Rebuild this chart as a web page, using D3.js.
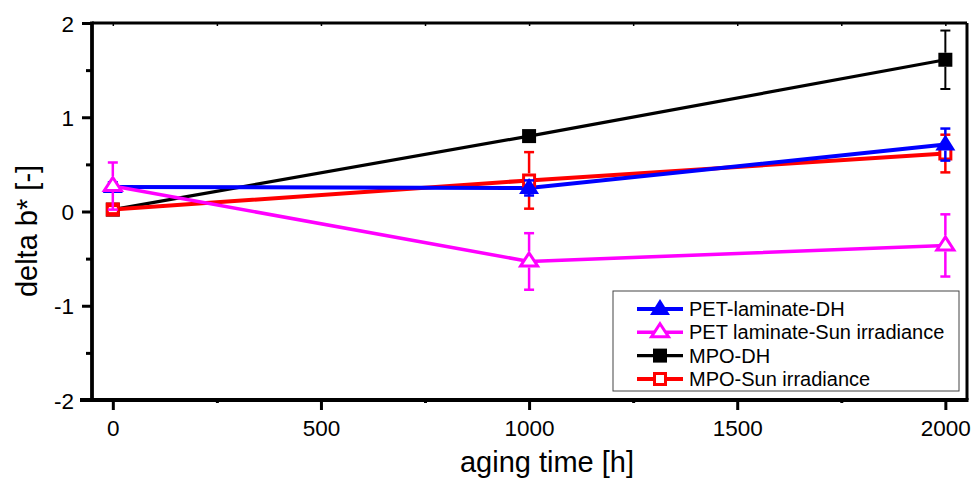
<!DOCTYPE html>
<html>
<head>
<meta charset="utf-8">
<script src="https://cdn.jsdelivr.net/npm/d3@7"></script>
<style>
  body { margin: 0; background: #fff; }
  text { font-family: "Liberation Sans", Arial, sans-serif; fill: #000; }
</style>
</head>
<body>
<div id="chart"></div>
<script>
// aging time [h]
const hours = [0, 1000, 2000];

const petDH = [0.26, 0.25, 0.71];
const petDHErr = [0.05, 0.08, 0.17];

const petSun = [0.27, -0.53, -0.36];
const petSunErr = [0.25, 0.30, 0.33];

const mpoDH = [0.02, 0.80, 1.61];
const mpoDHErr = [0.03, 0.05, 0.31];

const mpoSun = [0.02, 0.33, 0.615];
const mpoSunErr = [0.04, 0.30, 0.20];

const xTicks = [0, 500, 1000, 1500, 2000];
const yTicks = [-2, -1, 0, 1, 2];

const width = 980, height = 480;
const margin = { top: 23, right: 13, bottom: 80, left: 92 };

// marker shapes, top/bottom extents used to start error bars at marker edge
const shapes = {
    triUp: { path: "M0,-10L10,6L-10,6Z", top: 10, bottom: 6 },
    triOpen: { path: "M0,-8.5L8.5,4.5L-8.5,4.5Z", top: 10, bottom: 6 },
    square: { path: "M-7,-7H7V7H-7Z", top: 7, bottom: 7 },
    squareOpen: { path: "M-5.5,-5.5H5.5V5.5H-5.5Z", top: 7, bottom: 7 }
};

const series = [
    { name: "MPO-DH", values: mpoDH, err: mpoDHErr, color: "#000000", lw: 3.2, shape: "square", filled: true },
    { name: "MPO-Sun irradiance", values: mpoSun, err: mpoSunErr, color: "#ff0000", lw: 4, shape: "squareOpen", filled: false },
    { name: "PET-laminate-DH", values: petDH, err: petDHErr, color: "#0000ff", lw: 4, shape: "triUp", filled: true },
    { name: "PET laminate-Sun irradiance", values: petSun, err: petSunErr, color: "#ff00ff", lw: 3.5, shape: "triOpen", filled: false }
];
const legendOrder = ["PET-laminate-DH", "PET laminate-Sun irradiance", "MPO-DH", "MPO-Sun irradiance"];

const svg = d3.select("#chart").append("svg")
    .attr("width", width)
    .attr("height", height);

const x = d3.scaleLinear()
    .domain([-50, 2052])
    .range([margin.left, width - margin.right]);

const y = d3.scaleLinear()
    .domain([-2, 2])
    .range([height - margin.bottom, margin.top]);

// Axes

const fmt = d => String(d);   // plain hyphen for negatives, like the original
const xMinor = d3.range(-0, 2001, 250).filter(v => !xTicks.includes(v));
const yMinor = d3.range(-1.5, 2, 1);

const xAxis = svg.append("g")
    .attr("transform", `translate(0,${y(-2)})`)
    .call(d3.axisBottom(x).tickValues(xTicks).tickSize(10).tickPadding(10).tickFormat(fmt));

const xAxisMinor = svg.append("g")
    .attr("transform", `translate(0,${y(-2)})`)
    .call(d3.axisBottom(x).tickValues(xMinor).tickSize(3).tickFormat(""));

const yAxis = svg.append("g")
    .attr("transform", `translate(${x(-50)},0)`)
    .call(d3.axisLeft(y).tickValues(yTicks).tickSize(10).tickPadding(8).tickFormat(fmt));

const yAxisMinor = svg.append("g")
    .attr("transform", `translate(${x(-50)},0)`)
    .call(d3.axisLeft(y).tickValues(yMinor).tickSize(6).tickFormat(""));

const topTicks = svg.append("g")
    .attr("transform", `translate(0,${y(2)})`)
    .call(d3.axisTop(x).tickValues(d3.range(0, 2001, 250)).tickSize(-3).tickFormat(""));

[xAxis, xAxisMinor, yAxis, yAxisMinor, topTicks].forEach(g => {
    g.select(".domain").remove();
    g.selectAll(".tick line").attr("stroke", "#000").attr("stroke-width", 3);
});
xAxis.selectAll("text").style("font-size", "22.5px");
yAxis.selectAll("text").style("font-size", "22.5px").attr("dy", "0.36em");
topTicks.selectAll(".tick line").attr("stroke-width", 1.5);

// frame
svg.append("line").attr("x1", x(-50)).attr("x2", x(2052)).attr("y1", y(2)).attr("y2", y(2))
    .attr("stroke", "#000").attr("stroke-width", 3);
svg.append("line").attr("x1", x(2052)).attr("x2", x(2052)).attr("y1", y(2)).attr("y2", y(-2))
    .attr("stroke", "#000").attr("stroke-width", 3);
svg.append("line").attr("x1", x(-50) - 12).attr("x2", x(2052) + 1.5).attr("y1", y(-2)).attr("y2", y(-2))
    .attr("stroke", "#000").attr("stroke-width", 3.8);
svg.append("line").attr("x1", x(-50)).attr("x2", x(-50)).attr("y1", y(2) - 1.5).attr("y2", y(-2))
    .attr("stroke", "#000").attr("stroke-width", 3.8);

// Titles

svg.append("text")
    .attr("text-anchor", "middle")
    .attr("transform", `translate(547,472)`)
    .style("font-size", "29px")
    .text("aging time [h]");

svg.append("text")
    .attr("text-anchor", "middle")
    .attr("transform", `translate(37,231) rotate(-90)`)
    .style("font-size", "29px")
    .text("delta b* [-]");

// Lines

const line = d3.line()
    .x((d, i) => x(hours[i]))
    .y(d => y(d));

series.forEach(s => {
    svg.append("path")
        .datum(s.values)
        .attr("fill", "none")
        .attr("stroke", s.color)
        .attr("stroke-width", s.lw)
        .attr("d", line);
});

// Markers + error bars

series.forEach(s => {
    const sh = shapes[s.shape];
    const g = svg.append("g");
    g.selectAll("path.marker")
        .data(s.values)
        .join("path")
        .attr("class", "marker")
        .attr("transform", (d, i) => `translate(${x(hours[i])},${y(d)})`)
        .attr("d", sh.path)
        .attr("fill", s.filled ? s.color : "#fff")
        .attr("stroke", s.filled ? "none" : s.color)
        .attr("stroke-width", 3);

    s.values.forEach((v, i) => {
        const cx = x(hours[i]);
        const yc = y(v);
        const yHi = y(v + s.err[i]);
        const yLo = y(v - s.err[i]);
        const ew = s.color === "#000000" ? 2 : 2.5;
        if (yc - yHi > sh.top) {
            g.append("line").attr("x1", cx).attr("x2", cx).attr("y1", yc - sh.top).attr("y2", yHi)
                .attr("stroke", s.color).attr("stroke-width", ew);
        }
        if (yLo - yc > sh.bottom) {
            g.append("line").attr("x1", cx).attr("x2", cx).attr("y1", yc + sh.bottom).attr("y2", yLo)
                .attr("stroke", s.color).attr("stroke-width", ew);
        }
        [yHi, yLo].forEach(yy => {
            g.append("line").attr("x1", cx - 5).attr("x2", cx + 5).attr("y1", yy).attr("y2", yy)
                .attr("stroke", s.color).attr("stroke-width", ew);
        });
    });
});

// Legend

const legend = svg.append("g").attr("transform", "translate(613,291)");
legend.append("rect")
    .attr("width", 346).attr("height", 100)
    .attr("fill", "#fff")
    .attr("stroke", "#444").attr("stroke-width", 1);

legendOrder.forEach((name, i) => {
    const s = series.find(d => d.name === name);
    const sh = shapes[s.shape];
    const row = legend.append("g").attr("transform", `translate(0,${18 + i * 23.3})`);
    row.append("line").attr("x1", 24).attr("x2", 70).attr("y1", 0).attr("y2", 0)
        .attr("stroke", s.color).attr("stroke-width", s.lw);
    row.append("path")
        .attr("transform", "translate(47,0)")
        .attr("d", sh.path)
        .attr("fill", s.filled ? s.color : "#fff")
        .attr("stroke", s.filled ? "none" : s.color)
        .attr("stroke-width", 3);
    row.append("text")
        .attr("x", 76).attr("dy", "0.35em")
        .style("font-size", "20px")
        .text(name);
});
</script>
</body>
</html>
